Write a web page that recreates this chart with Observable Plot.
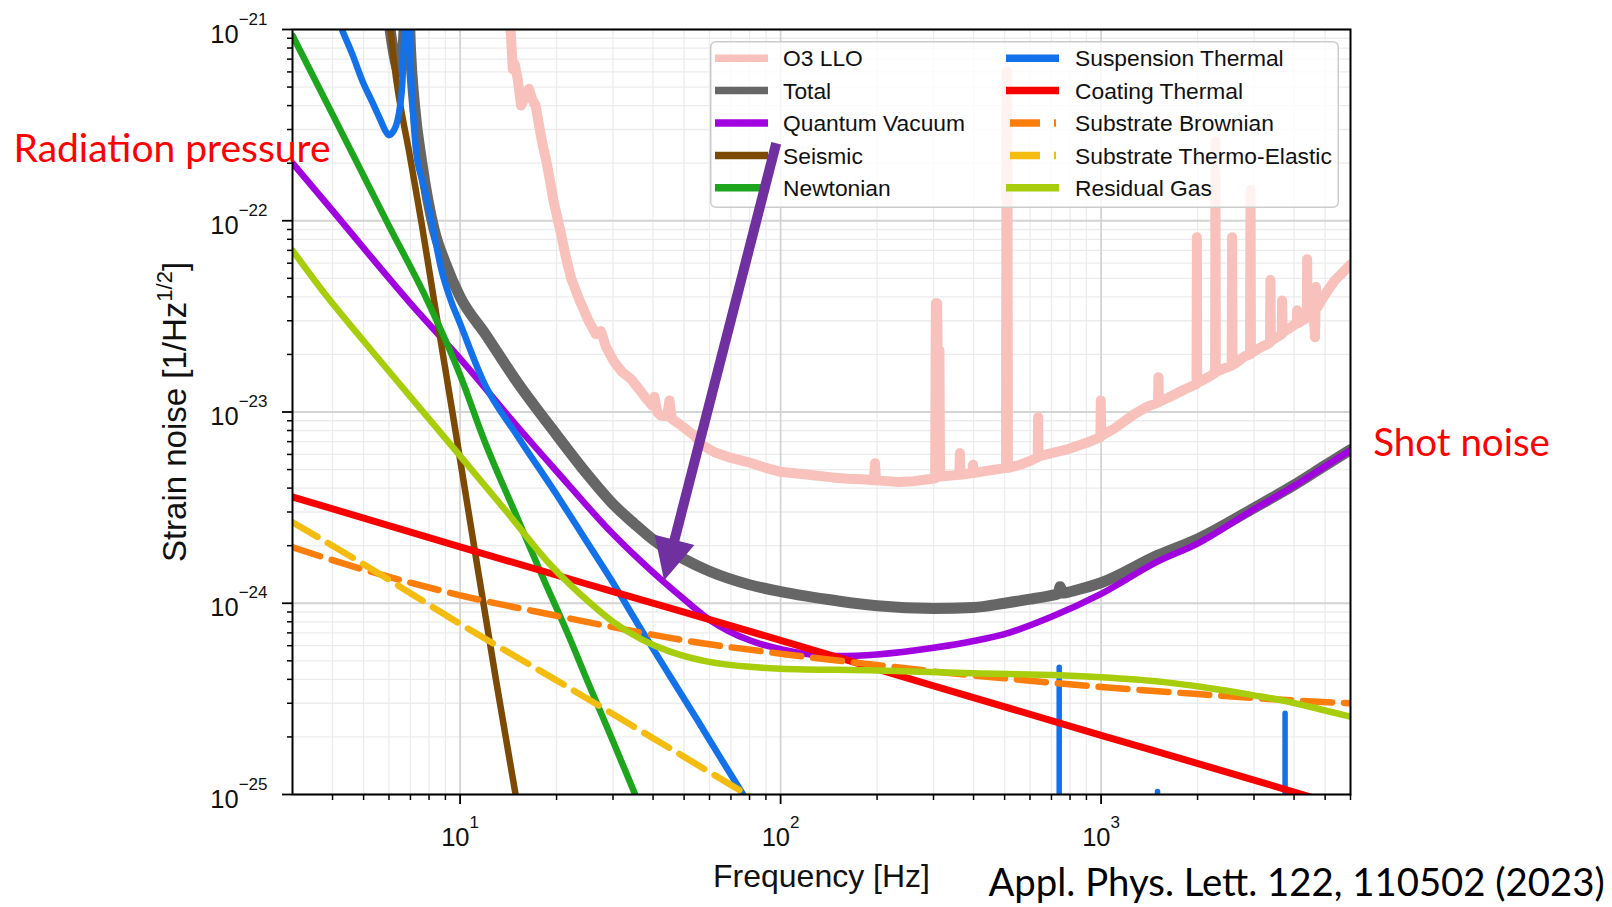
<!DOCTYPE html>
<html>
<head>
<meta charset="utf-8">
<script src="https://cdn.jsdelivr.net/npm/d3@7"></script>
<script src="https://cdn.jsdelivr.net/npm/@observablehq/plot@0.6"></script>
<style>
  body { margin: 0; background: #fff; }
  #wrap { position: relative; width: 1612px; height: 907px; overflow: hidden; background: #fff; }
  #wrap > svg { position: absolute; left: 0; top: 0; }
</style>
</head>
<body>
<div id="wrap"></div>
<script>
// ---------------- data (frequency [Hz], strain noise [1/sqrt(Hz)]) ----------------
const o3LLO = [
  [13.8,1.6e-21],[14.4,9.5e-22],[14.6,6.2e-22],[14.8,6.6e-22],[15.1,5.6e-22],[15.5,4.0e-22],[15.9,4.4e-22],
  [16.4,4.9e-22],[16.8,4.3e-22],[17.2,4.0e-22],[18.0,2.6e-22],[18.7,1.95e-22],[19.6,1.25e-22],[20.6,8.7e-23],
  [21.4,6.4e-23],[22.2,5.0e-23],[23.5,3.9e-23],[25,3.07e-23],[26.5,2.55e-23],[27.5,2.65e-23],[28.5,2.2e-23],
  [30.3,1.82e-23],[32,1.62e-23],[34.1,1.49e-23],[36,1.33e-23],[38,1.18e-23],[39.8,1.08e-23],[40.4,1.2e-23],
  [41.2,1.0e-23],[42.2,9.6e-24],[44.3,9.5e-24],[45,1.15e-23],[45.8,9.2e-24],[49,8.5e-24],[53.9,7.5e-24],
  [57,6.7e-24],[62.2,6.16e-24],[70,5.75e-24],[79,5.47e-24],[90,5.1e-24],[100.5,4.85e-24],[115,4.75e-24],
  [128,4.66e-24],[145,4.55e-24],[162,4.48e-24],[180,4.45e-24],[195.5,4.4e-24],[197,5.4e-24],[198.5,4.4e-24],
  [215,4.35e-24],[233,4.3e-24],[260,4.35e-24],[290,4.45e-24],[303.5,4.5e-24],[305,3.7e-23],[308,3.7e-23],
  [309,2.1e-23],[313,2.1e-23],[314.5,4.6e-24],[340,4.65e-24],[361,4.7e-24],[362.5,6.1e-24],[364,4.7e-24],
  [397,4.8e-24],[398.5,5.3e-24],[400,4.8e-24],[450,4.95e-24],[505,5.1e-24],[507,6.0e-22],[510,6.0e-22],
  [512,5.1e-24],[560,5.3e-24],[600,5.55e-24],[634,5.8e-24],[636,9.4e-24],[638,5.85e-24],[700,6.1e-24],
  [790,6.4e-24],[900,6.9e-24],[995,7.4e-24],[998,1.15e-23],[1001,7.5e-24],[1100,8.2e-24],[1276,9.8e-24],
  [1400,1.07e-23],[1505,1.12e-23],[1510,1.52e-23],[1515,1.13e-23],[1623,1.19e-23],[1800,1.3e-23],
  [1985,1.4e-23],[1990,8.2e-23],[1995,1.42e-23],[2064,1.46e-23],[2200,1.55e-23],[2268,1.6e-23],
  [2274,2.6e-22],[2280,1.62e-23],[2400,1.68e-23],[2555,1.75e-23],[2563,8.2e-23],[2571,1.77e-23],
  [2622,1.79e-23],[2800,1.95e-23],[2915,2.0e-23],[2925,1.45e-22],[2935,2.02e-23],[3100,2.15e-23],
  [3365,2.3e-23],[3375,4.9e-23],[3385,2.35e-23],[3660,2.55e-23],[3672,3.83e-23],[3684,2.6e-23],
  [4000,2.85e-23],[4080,2.9e-23],[4090,3.4e-23],[4100,2.9e-23],[4385,3.1e-23],[4395,6.3e-23],
  [4405,3.15e-23],[4600,3.3e-23],[4650,2.46e-23],[4680,4.5e-23],[4720,3.5e-23],[4900,3.9e-23],
  [5130,4.4e-23],[5375,4.9e-23],[5700,5.4e-23],[6000,5.9e-23]
];
const total = [
  [6.0,1.1e-21],[6.22,7.4e-22],[6.45,6.0e-22],[6.6,7.0e-22],[6.7,1.1e-21],[6.8,2.5e-21],[6.9,1.6e-21],
  [7.0,8.0e-22],[7.2,4.1e-22],[7.6,2.0e-22],[8.3,9.0e-23],[9,6.0e-23],[10,4.0e-23],[12,2.55e-23],
  [15,1.45e-23],[20,7.6e-24],[25,4.7e-24],[30,3.3e-24],[35,2.6e-24],[40,2.15e-24],[50,1.7e-24],
  [60,1.47e-24],[80,1.25e-24],[100,1.15e-24],[150,1.03e-24],[200,9.7e-25],[300,9.4e-25],[400,9.5e-25],
  [500,1.0e-24],[600,1.05e-24],[700,1.1e-24],[735,1.12e-24],[745,1.22e-24],[755,1.13e-24],[850,1.18e-24],
  [1000,1.28e-24],[1500,1.78e-24],[2000,2.17e-24],[3000,3.15e-24],[4000,4.15e-24],[5000,5.25e-24],[6000,6.35e-24]
];
const quantumVacuum = [
  [3,2.0e-22],[4,1.13e-22],[5,7.2e-23],[7,3.7e-23],[10,1.9e-23],[15,8.5e-24],[20,4.9e-24],[30,2.3e-24],
  [40,1.45e-24],[50,1.05e-24],[60,8.2e-25],[80,6.4e-25],[100,5.75e-25],[150,5.3e-25],[200,5.4e-25],
  [300,5.85e-25],[400,6.35e-25],[500,6.9e-25],[700,8.5e-25],[1000,1.12e-24],[1500,1.65e-24],
  [2000,2.05e-24],[3000,3.1e-24],[4000,4.1e-24],[5000,5.2e-24],[6000,6.3e-24]
];
const seismic = [
  [5.9,1.6e-21],[6.22,6.75e-22],[7,2.1e-22],[7.6,9.5e-23],[8.3,3.8e-23],[9.5,9.6e-24],[11,2.1e-24],
  [13,3.8e-25],[14.9,1.0e-25],[16,5e-26]
];
const newtonian = [
  [3,9.3e-22],[4,3.6e-22],[5,1.72e-22],[6,9.4e-23],[7.9,3.83e-23],[10,1.56e-23],[11.9,7.1e-24],
  [15,2.86e-24],[18,1.4e-24],[21.7,6.9e-25],[25,3.9e-25],[30,1.9e-25],[35,1.02e-25],[40,6e-26]
];
const suspensionThermal = [
  [4.0,1.35e-21],[4.28,1.0e-21],[4.6,7.5e-22],[5.0,5.2e-22],[5.35,4.1e-22],[5.65,3.35e-22],[5.85,2.95e-22],
  [6.0,2.8e-22],[6.2,2.95e-22],[6.37,3.3e-22],[6.5,4.0e-22],[6.6,5.2e-22],[6.7,1.0e-21],[6.8,2.5e-21],
  [6.9,1.5e-21],[7.0,7.0e-22],[7.1,4.3e-22],[7.28,2.35e-22],[7.6,1.65e-22],[7.9,1.28e-22],[8.3,8.5e-23],
  [8.71,5.7e-23],[9.36,3.83e-23],[10,2.9e-23],[11.9,1.41e-23],[15.1,7.5e-24],[20,3.7e-24],[24.4,2.2e-24],
  [30,1.28e-24],[36,7.7e-25],[45,4.2e-25],[55,2.45e-25],[65,1.55e-25],[76.4,1.0e-25],[85,7.5e-26]
];
const suspensionViolin = [[740,4.6e-25],[1500,1.03e-25],[3750,2.64e-25]];
const coatingThermal = [
  [3,3.6e-24],[10,1.97e-24],[30,1.15e-24],[100,6.4e-25],[300,3.7e-25],[1000,2.04e-25],[3000,1.19e-25],[6000,8.4e-26]
];
const substrateBrownian = [
  [3,1.96e-24],[5,1.5e-24],[10,1.1e-24],[20,8.6e-25],[30,7.5e-25],[50,6.4e-25],[100,5.45e-25],[200,4.75e-25],
  [300,4.4e-25],[500,4.05e-25],[1000,3.65e-25],[2000,3.35e-25],[4000,3.1e-25],[6000,3.0e-25]
];
const substrateThermoElastic = [
  [3,2.65e-24],[5,1.6e-24],[10,7.8e-25],[20,3.95e-25],[40,1.97e-25],[80,9.8e-26],[90,8.7e-26]
];
const residualGas = [
  [3,7.0e-23],[3.85,4.0e-23],[5,2.35e-23],[7,1.2e-23],[10,5.9e-24],[14,3.0e-24],[19.2,1.58e-24],[25,1.03e-24],
  [30,8.0e-25],[36.7,6.5e-25],[45,5.6e-25],[59.3,4.95e-25],[80,4.65e-25],[100,4.55e-25],[200,4.45e-25],
  [400,4.3e-25],[740,4.2e-25],[1000,4.1e-25],[1545,3.88e-25],[2064,3.65e-25],[3000,3.3e-25],[3760,3.08e-25],
  [5000,2.75e-25],[6000,2.55e-25]
];

// ticks and labels
const xMajorTicks = [10, 100, 1000];
const xTickLabels = ["10^{1}", "10^{2}", "10^{3}"];
const xMinorTicks = [4,5,6,7,8,9,20,30,40,50,60,70,80,90,200,300,400,500,600,700,800,900,2000,3000,4000,5000,6000];
const yMajorTicks = [1e-25, 1e-24, 1e-23, 1e-22, 1e-21];
const yTickLabels = ["10^{\u221225}", "10^{\u221224}", "10^{\u221223}", "10^{\u221222}", "10^{\u221221}"];
const yMinorTicks = [2e-25,3e-25,4e-25,5e-25,6e-25,7e-25,8e-25,9e-25,2e-24,3e-24,4e-24,5e-24,6e-24,7e-24,8e-24,9e-24,
  2e-23,3e-23,4e-23,5e-23,6e-23,7e-23,8e-23,9e-23,2e-22,3e-22,4e-22,5e-22,6e-22,7e-22,8e-22,9e-22];
const xAxisTitle = "Frequency [Hz]";
const yAxisTitle = "Strain noise [1/Hz^{1/2}]";

// annotations
const arrowShaft = [[96.9, 2.54e-22], [45.7, 1.87e-24]];
const arrowTip = [[43.3, 1.315e-24]];
const noteRadiation = "Radiation pressure";
const noteShot = "Shot noise";
const noteCitation = "Appl. Phys. Lett. 122, 110502 (2023)";

// ---------------- styling ----------------
const series = [
  {name: "O3 LLO", data: o3LLO, color: "#f8c1bb", width: 10, curve: "linear", col: 0, row: 0},
  {name: "Total", data: total, color: "#666666", width: 11, curve: "monotone-x", col: 0, row: 1},
  {name: "Quantum Vacuum", data: quantumVacuum, color: "#a102e0", width: 6.5, curve: "monotone-x", col: 0, row: 2},
  {name: "Seismic", data: seismic, color: "#7c4a04", width: 6.5, curve: "monotone-x", col: 0, row: 3},
  {name: "Newtonian", data: newtonian, color: "#1ea51e", width: 6.5, curve: "monotone-x", col: 0, row: 4},
  {name: "Suspension Thermal", data: suspensionThermal, color: "#1371ea", width: 6.5, curve: "monotone-x", col: 1, row: 0},
  {name: "Coating Thermal", data: coatingThermal, color: "#f70000", width: 7, curve: "monotone-x", col: 1, row: 1},
  {name: "Substrate Brownian", data: substrateBrownian, color: "#fb7d0c", width: 6.5, curve: "monotone-x", dash: "29,12", col: 1, row: 2},
  {name: "Substrate Thermo-Elastic", data: substrateThermoElastic, color: "#f4bc0f", width: 6.5, curve: "monotone-x", dash: "29,12", col: 1, row: 3},
  {name: "Residual Gas", data: residualGas, color: "#a8cd0c", width: 6.5, curve: "monotone-x", col: 1, row: 4}
];

const W = 1612, H = 907;
const M = {left: 292, right: 262, top: 29, bottom: 113};
const TICK_FONT = 25.5;
const FONT = "'Liberation Sans', Arial, Helvetica, sans-serif";

const lineMarks = [];
for (const s of series) {
  lineMarks.push(Plot.line(s.data, {
    x: d => d[0], y: d => d[1], stroke: s.color, strokeWidth: s.width,
    strokeDasharray: s.dash, curve: s.curve, clip: true, strokeLinejoin: "round"
  }));
  if (s.name === "Suspension Thermal") {
    lineMarks.push(Plot.ruleX(suspensionViolin, {
      x: d => d[0], y1: 1e-26, y2: d => d[1], stroke: s.color, strokeWidth: 5.5,
      strokeLinecap: "round", clip: true
    }));
  }
}

const xScale = {type: "log", domain: [3, 6000]};
const yScale = {type: "log", domain: [1e-25, 1e-21]};

const main = Plot.plot({
  width: W, height: H,
  marginLeft: M.left, marginRight: M.right, marginTop: M.top, marginBottom: M.bottom,
  x: xScale, y: yScale,
  style: {background: "#fff", color: "#111", fontFamily: FONT},
  marks: [
    Plot.ruleX(xMinorTicks, {stroke: "#ececec", strokeWidth: 1.3}),
    Plot.ruleY(yMinorTicks, {stroke: "#ececec", strokeWidth: 1.3}),
    Plot.ruleX(xMajorTicks, {stroke: "#d4d4d4", strokeWidth: 1.8}),
    Plot.ruleY(yMajorTicks, {stroke: "#d4d4d4", strokeWidth: 1.8}),
    ...lineMarks,
    Plot.frame({stroke: "#000", strokeWidth: 2}),
    Plot.axisX({ticks: xMinorTicks, tickSize: 6, tickFormat: () => "", label: null, strokeWidth: 1.5, stroke: "#000"}),
    Plot.axisY({ticks: yMinorTicks, tickSize: 5, tickFormat: () => "", label: null, strokeWidth: 1.5, stroke: "#000"}),
    Plot.axisX({ticks: xMajorTicks, tickSize: 10, tickPadding: 23, fontSize: TICK_FONT, label: null,
      strokeWidth: 1.8, stroke: "#000", fill: "#111",
      tickFormat: d => xTickLabels[xMajorTicks.indexOf(d)]}),
    Plot.axisY({ticks: yMajorTicks, tickSize: 10, tickPadding: 15, fontSize: TICK_FONT, label: null,
      strokeWidth: 1.8, stroke: "#000", fill: "#111",
      tickFormat: d => yTickLabels[yMajorTicks.indexOf(d)]}),
    Plot.text([xAxisTitle], {frameAnchor: "bottom", dy: 92, text: d => d, fontSize: 32, lineAnchor: "bottom", fill: "#111"}),
    Plot.text([yAxisTitle], {frameAnchor: "left", dx: -107, text: d => d, fontSize: 33, rotate: -90,
      lineAnchor: "bottom", textAnchor: "middle", fill: "#111"})
  ]
});

// superscripts
function supify(root) {
  d3.select(root).selectAll("text").each(function () {
    const t = this.textContent;
    const m = /^(.*?)\^\{(.*?)\}(.*)$/.exec(t);
    if (!m) return;
    const isTick = m[1] === "10";
    const supSize = isTick ? 17 : 22;
    const rise = isTick ? 18 : 13.5;
    const yAxisTick = isTick && this.closest("g[aria-label='y-axis tick label']") !== null;
    this.textContent = "";
    const s = d3.select(this);
    s.append("tspan").attr("dy", yAxisTick ? 5 : 0).text(m[1]);
    s.append("tspan").attr("font-size", supSize).attr("dy", -rise).text(m[2]);
    if (m[3]) s.append("tspan").attr("dy", rise).text(m[3]);
  });
}
supify(main);

const wrap = document.getElementById("wrap");
wrap.appendChild(main);

// legend (inside the axes, drawn as an overlay)
const LG = {left: 710, top: 41.3, width: 629, height: 167};
const legend = d3.create("svg").attr("width", LG.width + 2).attr("height", LG.height + 2)
  .style("left", LG.left + "px").style("top", LG.top + "px").style("position", "absolute")
  .style("font-family", FONT);
legend.append("rect").attr("x", 0.75).attr("y", 0.75).attr("width", LG.width - 1.5).attr("height", LG.height - 1.5)
  .attr("rx", 5).attr("fill", "rgba(255,255,255,0.8)").attr("stroke", "#cccccc").attr("stroke-width", 1.5);
const colX = [{s0: 5, s1: 58, tx: 73}, {s0: 296, s1: 349, tx: 365}];
for (const s of series) {
  const c = colX[s.col];
  const cy = 17.2 + 32.4 * s.row;
  legend.append("line")
    .attr("x1", c.s0 + (s.dash ? 4 : 0)).attr("x2", s.dash ? c.s0 + 50 : c.s1)
    .attr("y1", cy).attr("y2", cy)
    .attr("stroke", s.color).attr("stroke-width", 7.5)
    .attr("stroke-dasharray", s.dash ? "30,14" : null);
  legend.append("text").attr("x", c.tx).attr("y", cy + 8.2)
    .attr("font-size", 22.8).attr("fill", "#111").text(s.name);
}
wrap.appendChild(legend.node());

// overlay: arrow and notes
const headSymbol = {
  draw(ctx) { ctx.moveTo(0, 0); ctx.lineTo(-20.5, 42); ctx.lineTo(20.5, 42); ctx.closePath(); }
};
const overlay = Plot.plot({
  width: W, height: H,
  marginLeft: M.left, marginRight: M.right, marginTop: M.top, marginBottom: M.bottom,
  x: {...xScale, axis: null}, y: {...yScale, axis: null},
  style: {background: "transparent", fontFamily: "Lato, 'Open Sans', sans-serif"},
  marks: [
    Plot.line(arrowShaft, {x: d => d[0], y: d => d[1], stroke: "#7030a0", strokeWidth: 10, strokeLinecap: "butt"}),
    Plot.dot(arrowTip, {x: d => d[0], y: d => d[1], symbol: headSymbol, r: 10, fill: "#7030a0", stroke: null, rotate: 194.4}),
    Plot.text([noteRadiation], {frameAnchor: "top-left", dx: -279, dy: 132.7, text: d => d, textAnchor: "start",
      lineAnchor: "bottom", fontSize: 39, fill: "#ff0000", fontFamily: "Lato"}),
    Plot.text([noteShot], {frameAnchor: "top-left", dx: 1080.7, dy: 426, text: d => d, textAnchor: "start",
      lineAnchor: "bottom", fontSize: 38.5, fill: "#ff0000", fontFamily: "Lato"}),
    Plot.text([noteCitation], {frameAnchor: "top-left", dx: 696, dy: 866, text: d => d, textAnchor: "start",
      lineAnchor: "bottom", fontSize: 38.3, fill: "#000", fontFamily: "Lato"})
  ]
});
wrap.appendChild(overlay);
</script>
</body>
</html>
